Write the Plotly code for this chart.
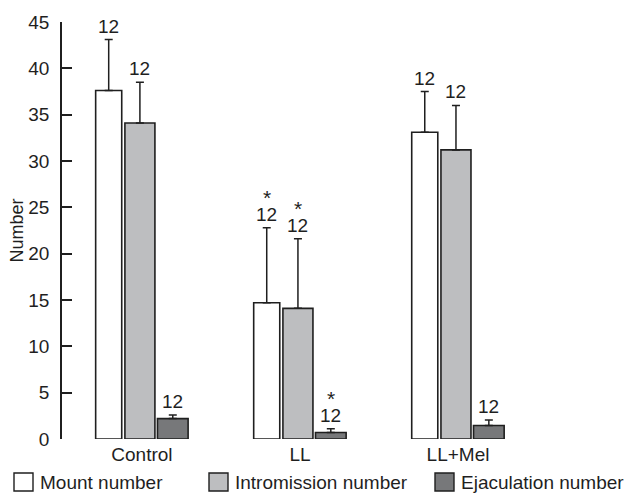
import plotly.graph_objects as go

groups = ["Control", "LL", "LL+Mel"]
series = ["Mount number", "Intromission number", "Ejaculation number"]
means = {
    "Mount number": [37.6, 14.7, 33.1],
    "Intromission number": [34.1, 14.1, 31.2],
    "Ejaculation number": [2.2, 0.7, 1.45],
}
errors = {
    "Mount number": [5.5, 8.1, 4.4],
    "Intromission number": [4.4, 7.5, 4.8],
    "Ejaculation number": [0.4, 0.4, 0.6],
}
n_labels = {
    "Mount number": ["12", "12", "12"],
    "Intromission number": ["12", "12", "12"],
    "Ejaculation number": ["12", "12", "12"],
}
significant = {
    "Mount number": [False, True, False],
    "Intromission number": [False, True, False],
    "Ejaculation number": [False, True, False],
}
y_ticks = [0, 5, 10, 15, 20, 25, 30, 35, 40, 45]

colors = {"Mount number": "#ffffff", "Intromission number": "#bdbec0", "Ejaculation number": "#77787a"}
widths = {"Mount number": 0.165, "Intromission number": 0.19, "Ejaculation number": 0.194}
offsets = {"Mount number": -0.293, "Intromission number": -0.108, "Ejaculation number": 0.098}

FONT = "Liberation Sans, Arial, sans-serif"
INK = "#1f1f1f"
FS = 19
xpos = list(range(len(groups)))

fig = go.Figure()
annotations = []
for s in series:
    fig.add_trace(go.Bar(
        x=xpos, y=means[s], name=s,
        width=widths[s], offset=offsets[s],
        marker=dict(color=colors[s], line=dict(color=INK, width=1.6)),
        error_y=dict(type="data", array=errors[s], arrayminus=[0] * len(groups),
                     symmetric=False, color=INK, thickness=1.5, width=4),
        showlegend=False,
    ))
    for i, g in enumerate(xpos):
        cx = g + offsets[s] + widths[s] / 2
        top = means[s][i] + errors[s][i]
        annotations.append(dict(x=cx, y=top, xref="x", yref="y", text=n_labels[s][i],
                                showarrow=False, yanchor="bottom", yshift=1,
                                font=dict(family=FONT, size=FS, color=INK)))
        if significant[s][i]:
            annotations.append(dict(x=cx, y=top, xref="x", yref="y", text="*",
                                    showarrow=False, yanchor="bottom", yshift=17,
                                    font=dict(family=FONT, size=21, color=INK)))

# legend drawn as boxes + labels along the bottom
legend_x = [14, 209, 435]
shapes = []
W, H = 627, 493
PW = W - 62 - 7
PH = 439 - 22
for k, s in enumerate(series):
    x0 = legend_x[k]
    shapes.append(dict(type="rect", xref="paper", yref="paper",
                       x0=(x0 - 62) / PW, x1=(x0 + 19 - 62) / PW,
                       y0=-(473 - 439) / PH, y1=-(491 - 439) / PH,
                       fillcolor=colors[s], line=dict(color=INK, width=1.4)))
    annotations.append(dict(x=(x0 + 24 - 62) / PW, y=-(482 - 439) / PH,
                            xref="paper", yref="paper", text=s, showarrow=False,
                            xanchor="left", yanchor="middle",
                            font=dict(family=FONT, size=FS, color=INK)))

fig.update_layout(
    width=W, height=H,
    margin=dict(l=62, r=7, t=22, b=54),
    paper_bgcolor="white", plot_bgcolor="white",
    barmode="overlay",
    font=dict(family=FONT, size=FS, color=INK),
    xaxis=dict(range=[-0.506, 3.025], tickvals=xpos, ticktext=groups,
               showline=False, showgrid=False, zeroline=False, ticks="",
               ticklabelstandoff=2,
               tickfont=dict(size=FS, color=INK)),
    yaxis=dict(range=[0, 45], tickvals=y_ticks, showline=True, linecolor=INK, linewidth=1.5,
               ticks="inside", ticklen=10, tickwidth=1.5, tickcolor=INK,
               showgrid=False, zeroline=False, ticklabelstandoff=7,
               tickfont=dict(size=FS, color=INK),
               title=dict(text="Number", font=dict(size=18, color=INK), standoff=0)),
    annotations=annotations,
    shapes=shapes,
)
fig.write_html("out.html")
